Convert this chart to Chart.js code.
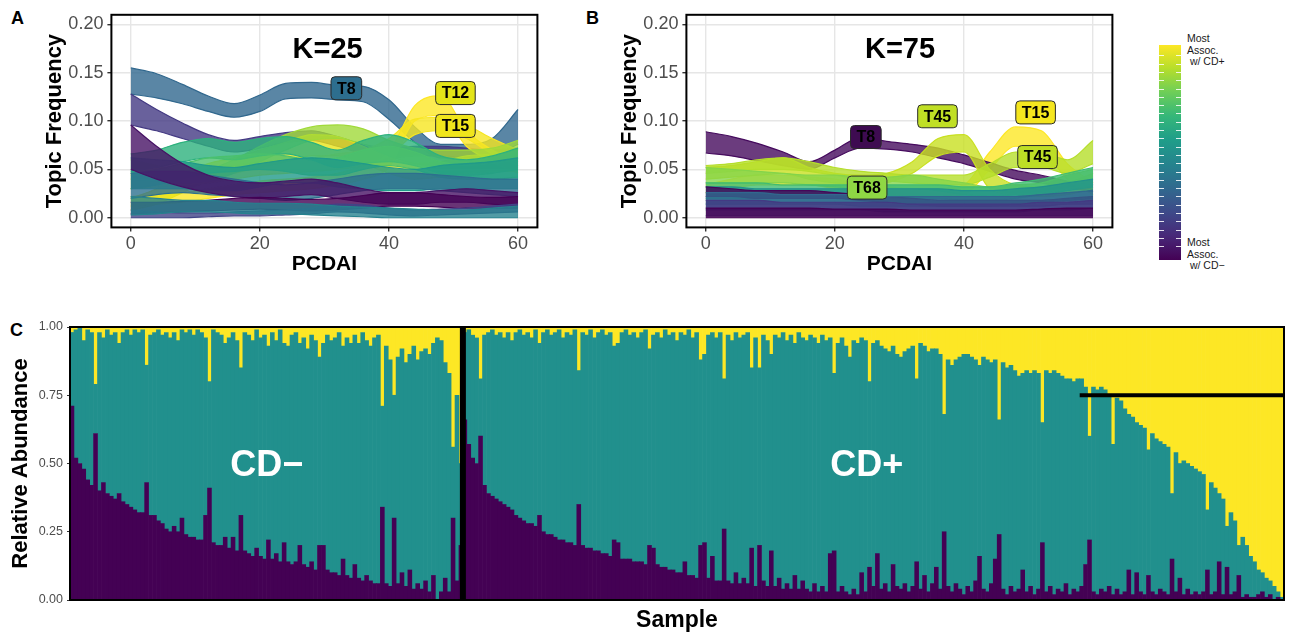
<!DOCTYPE html>
<html>
<head>
<meta charset="utf-8">
<script src="https://cdn.jsdelivr.net/npm/chart.js@4.4.1/dist/chart.umd.min.js"></script>
<style>
  html, body { margin: 0; padding: 0; background: #fff; }
  body { width: 1290px; height: 635px; position: relative; overflow: hidden;
         font-family: "Liberation Sans", Arial, Helvetica, sans-serif; }
  canvas { position: absolute; }
  .tag { position: absolute; font-weight: bold; font-size: 18px; line-height: 20px; color: #000; }
  #cbar { position: absolute; left: 1159px; top: 45px; width: 22px; height: 215px;
          background: linear-gradient(to top, #440154 0%, #482878 11%, #3e4989 22%, #31688e 33%,
            #26828e 44%, #1f9e89 56%, #35b779 67%, #6ece58 78%, #b5de2b 89%, #fde725 100%); }
  .cticks { position: absolute; top: 3px; width: 5px; height: 210px;
            background: repeating-linear-gradient(to bottom, rgba(255,255,255,0) 0px, rgba(255,255,255,0) 7.3px,
              rgba(255,255,255,.85) 7.3px, rgba(255,255,255,.85) 8.3px); }
  .cblab { position: absolute; left: 1187px; font-size: 10.5px; line-height: 11.7px; color: #1a1a1a; white-space: pre; }
</style>
</head>
<body>
<div class="tag" style="left:11px; top:8px;">A</div>
<div class="tag" style="left:586px; top:8px;">B</div>
<div class="tag" style="left:10px; top:320px;">C</div>

<canvas id="chartA" width="560" height="285" style="left:0px; top:0px;"></canvas>
<canvas id="chartB" width="560" height="285" style="left:575px; top:0px;"></canvas>
<canvas id="chartC" width="1290" height="335" style="left:0px; top:300px;"></canvas>

<div id="cbar"><div class="cticks" style="left:0px;"></div><div class="cticks" style="right:0px;"></div></div>
<div class="cblab" style="top:33px;">Most
Assoc.
 w/ CD+</div>
<div class="cblab" style="top:237px;">Most
Assoc.
 w/ CD−</div>

<script>
// ---- panels A / B : topic frequency along PCDAI ----
const pcdai = [0, 4, 8, 12, 16, 20, 24, 28, 32, 36, 40, 44, 48, 52, 56, 60];
const pcdaiTicks = [0, 20, 40, 60];
const freqTicks = [0, 0.05, 0.10, 0.15, 0.20];

// K=25 bundles (lower / upper edge of each topic's bundle of curves)
const aT8Lo = [.128, .124, .118, .110, .104, .110, .123, .124, .122, .120, .102, .078, .062, .062, .064, .076];
const aT8Hi = [.155, .149, .138, .126, .118, .127, .139, .140, .137, .136, .122, .094, .076, .076, .082, .112];
const aPurpleLo = [.096, .090, .082, .074, .068, .072, .078, .080, .074, .066, .062, .064, .064, .062, .062, .060];
const aPurpleHi = [.128, .112, .098, .086, .080, .084, .088, .090, .084, .076, .072, .074, .074, .072, .070, .072];
const aPlumLo = [.050, .040, .032, .026, .022, .020, .022, .024, .020, .016, .014, .014, .016, .016, .014, .012];
const aPlumHi = [.096, .074, .056, .044, .038, .036, .038, .040, .036, .030, .026, .026, .028, .030, .028, .026];
const aInkLo = [.004, .005, .006, .007, .008, .009, .008, .007, .008, .010, .012, .012, .011, .010, .010, .010];
const aInkHi = [.016, .016, .017, .018, .020, .021, .020, .019, .020, .023, .026, .026, .024, .022, .021, .022];
const aIndigoLo = [.000, .000, .000, .001, .002, .002, .003, .004, .006, .005, .003, .002, .003, .004, .005, .006];
const aIndigoHi = [.008, .006, .005, .005, .006, .007, .008, .010, .014, .013, .010, .008, .009, .010, .012, .014];
const aTealBaseLo = [.003, .004, .006, .006, .005, .004, .004, .003, .002, .001, .000, .000, .000, .000, .000, .000];
const aTealBaseHi = [.022, .020, .018, .018, .016, .015, .015, .014, .012, .011, .010, .009, .008, .008, .010, .012];
const aTealLo = [.030, .030, .030, .028, .028, .032, .036, .036, .032, .030, .028, .028, .030, .030, .030, .030];
const aTealHi = [.062, .060, .058, .054, .052, .056, .060, .062, .060, .056, .052, .050, .054, .056, .058, .062];
const aSlateLo = [.020, .024, .026, .024, .022, .020, .018, .020, .024, .028, .030, .030, .028, .026, .024, .022];
const aSlateHi = [.046, .048, .048, .044, .040, .036, .034, .036, .040, .044, .046, .046, .044, .042, .040, .040];
const aGreenLo = [.048, .052, .058, .062, .060, .064, .066, .060, .052, .056, .058, .054, .046, .044, .046, .050];
const aGreenHi = [.066, .070, .078, .082, .078, .082, .084, .078, .070, .080, .086, .078, .064, .060, .064, .072];
const aMintLo = [.030, .034, .040, .046, .048, .050, .048, .044, .044, .050, .054, .050, .042, .040, .040, .042];
const aMintHi = [.046, .050, .056, .062, .064, .066, .064, .060, .062, .070, .074, .068, .058, .054, .056, .060];
const aLimeLo = [.040, .038, .036, .038, .046, .058, .070, .080, .082, .076, .064, .056, .054, .056, .058, .062];
const aLimeHi = [.060, .054, .048, .050, .060, .074, .086, .094, .096, .092, .080, .072, .070, .070, .072, .080];
const aGoldLo = [.008, .014, .026, .038, .046, .052, .058, .064, .064, .056, .046, .040, .042, .046, .048, .048];
const aGoldHi = [.020, .030, .044, .056, .062, .070, .078, .086, .084, .074, .062, .056, .058, .064, .066, .070];
const aT12Lo = [.012, .014, .016, .020, .024, .026, .028, .030, .034, .040, .052, .100, .106, .074, .058, .046];
const aT12Hi = [.022, .024, .026, .030, .034, .038, .040, .042, .046, .054, .068, .116, .126, .090, .070, .058];
const aT15Lo = [.030, .032, .034, .036, .040, .044, .046, .048, .050, .054, .064, .086, .090, .082, .066, .054];
const aT15Hi = [.044, .046, .048, .050, .054, .058, .060, .062, .066, .070, .082, .102, .104, .096, .082, .070];

// K=75 bundles
const bT8Lo = [.067, .064, .059, .054, .050, .062, .072, .071, .068, .062, .056, .048, .040, .036, .031, .027];
const bT8Hi = [.089, .084, .077, .068, .058, .070, .083, .079, .076, .072, .065, .057, .049, .044, .038, .034];
const bT45Lo = [.040, .042, .044, .046, .040, .036, .034, .036, .046, .064, .068, .030, .024, .022, .024, .030];
const bT45Hi = [.052, .054, .058, .062, .052, .046, .044, .046, .058, .082, .086, .050, .034, .032, .036, .046];
const bT15Lo = [.026, .030, .034, .034, .034, .030, .026, .024, .022, .022, .024, .050, .074, .070, .040, .024];
const bT15Hi = [.034, .040, .044, .044, .042, .040, .034, .032, .030, .030, .034, .068, .094, .090, .056, .036];
const bT45bLo = [.046, .048, .050, .050, .048, .044, .040, .038, .036, .034, .034, .042, .052, .052, .046, .056];
const bT45bHi = [.054, .056, .060, .062, .058, .052, .048, .046, .044, .044, .044, .056, .068, .068, .060, .080];
const bT68Lo = [.036, .036, .036, .036, .034, .032, .030, .030, .030, .028, .024, .022, .024, .026, .030, .034];
const bT68Hi = [.052, .050, .048, .046, .044, .044, .042, .042, .044, .040, .036, .032, .034, .036, .044, .050];
const bGreenLo = [.020, .020, .020, .020, .020, .020, .020, .020, .020, .020, .018, .018, .020, .024, .028, .032];
const bGreenHi = [.036, .036, .036, .034, .034, .034, .034, .034, .034, .034, .032, .032, .036, .040, .046, .052];
const bTealLo = [.014, .014, .014, .014, .014, .014, .012, .012, .012, .012, .012, .012, .014, .016, .018, .020];
const bTealHi = [.032, .032, .030, .030, .030, .030, .030, .030, .030, .030, .028, .028, .030, .032, .036, .040];
const bBlueLo = [.008, .008, .008, .008, .008, .008, .008, .006, .006, .006, .006, .006, .006, .008, .008, .010];
const bBlueHi = [.026, .026, .026, .024, .024, .024, .024, .022, .022, .022, .022, .022, .022, .024, .026, .028];
const bIndigoLo = [.002, .002, .002, .002, .002, .002, .002, .002, .002, .002, .002, .002, .002, .002, .002, .002];
const bIndigoHi = [.018, .018, .018, .016, .016, .016, .016, .016, .014, .014, .014, .014, .014, .016, .016, .018];
const bInkLo = [0, 0, 0, 0, 0, 0, 0, 0, 0, 0, 0, 0, 0, 0, 0, 0];
const bInkHi = [.010, .010, .010, .010, .010, .009, .009, .009, .008, .008, .008, .008, .008, .009, .010, .010];
const bPlumLo = [.022, .022, .020, .020, .020, .020, .018, .016, .014, .012, .012, .012, .012, .012, .014, .014];
const bPlumHi = [.032, .030, .028, .028, .028, .026, .024, .022, .020, .018, .018, .018, .018, .018, .020, .022];

// topic labels
const tagTextA = ['T8', 'T12', 'T15'];
const tagXA = [33.4, 50.3, 50.3];
const tagYA = [0.134, 0.129, 0.095];
const tagTextB = ['T8', 'T45', 'T15', 'T45', 'T68'];
const tagXB = [24.8, 35.9, 51.1, 51.4, 25.0];
const tagYB = [0.0835, 0.105, 0.109, 0.0628, 0.0312];

// ---- panel C : relative abundance per sample (percent) ----
const cdNegLow = [71, 52, 50, 48, 44, 42, 61, 40, 43, 39, 38, 37, 39, 36, 35, 34, 33, 32, 32, 43,
  31, 31, 29, 28, 26, 25, 27, 25, 30, 24, 23, 23, 22, 22, 31, 41, 21, 20, 20, 23,
  19, 23, 18, 31, 18, 17, 16, 19, 16, 15, 22, 15, 17, 14, 21, 14, 13, 14, 20, 13,
  12, 14, 11, 20, 20, 11, 10, 10, 9, 15, 9, 8, 13, 8, 7, 9, 7, 6, 6, 34,
  6, 5, 30, 6, 10, 5, 11, 4, 6, 4, 7, 3, 9, 0, 3, 8, 3, 30, 7, 20];
const cdNegHigh = [2, 1, 0, 5, 1, 2, 21, 2, 4, 1, 3, 2, 6, 2, 1, 3, 1, 2, 1, 14,
  3, 2, 1, 3, 2, 4, 2, 5, 1, 2, 1, 3, 1, 2, 4, 20, 1, 2, 3, 6,
  4, 2, 5, 15, 2, 3, 5, 1, 4, 3, 7, 2, 5, 1, 6, 7, 3, 2, 6, 4,
  8, 3, 5, 11, 6, 3, 5, 4, 2, 7, 4, 6, 3, 6, 2, 5, 7, 4, 3, 29,
  7, 12, 25, 11, 8, 13, 10, 7, 12, 9, 8, 10, 6, 4, 5, 13, 17, 44, 25, 50];
const cdPosLow = [66, 57, 52, 50, 60, 42, 39, 38, 37, 36, 35, 34, 33, 31, 30, 29, 28, 28, 27, 31,
  25, 24, 24, 23, 22, 22, 21, 21, 20, 35, 20, 19, 19, 18, 18, 17, 17, 16, 22, 21,
  15, 15, 15, 14, 14, 14, 13, 20, 19, 13, 12, 12, 11, 11, 10, 10, 14, 9, 9, 8,
  20, 21, 8, 16, 7, 7, 26, 7, 6, 10, 6, 8, 6, 19, 5, 20, 7, 5, 18, 5,
  8, 4, 6, 4, 9, 4, 7, 4, 3, 6, 3, 5, 3, 17, 18, 3, 5, 3, 2, 4,
  2, 10, 3, 12, 5, 17, 4, 6, 3, 13, 5, 4, 6, 3, 5, 14, 4, 9, 3, 6,
  12, 4, 25, 5, 3, 6, 4, 2, 5, 3, 7, 16, 4, 3, 6, 15, 24, 4, 2, 5,
  3, 4, 11, 3, 5, 2, 4, 21, 3, 5, 2, 4, 3, 6, 2, 4, 3, 5, 13, 22,
  3, 2, 4, 3, 5, 2, 4, 2, 3, 11, 2, 10, 3, 2, 9, 3, 2, 4, 3, 2,
  15, 3, 8, 2, 4, 2, 3, 2, 3, 11, 2, 3, 14, 2, 12, 2, 3, 9, 1, 2,
  1, 1, 2, 3, 1, 2, 0, 1, 0];
const cdPosHigh = [2, 1, 3, 4, 19, 3, 2, 1, 3, 2, 4, 2, 5, 2, 1, 3, 2, 4, 1, 6,
  2, 1, 3, 2, 1, 4, 2, 3, 1, 16, 2, 3, 1, 4, 2, 1, 3, 2, 7, 6,
  2, 1, 3, 2, 4, 2, 1, 8, 3, 2, 4, 1, 3, 2, 5, 2, 3, 1, 4, 2,
  12, 10, 3, 2, 4, 2, 19, 3, 5, 2, 4, 3, 2, 15, 4, 15, 3, 5, 10, 3,
  4, 2, 5, 3, 6, 2, 4, 5, 3, 4, 6, 3, 5, 4, 17, 6, 4, 7, 11, 5,
  6, 4, 5, 20, 6, 5, 7, 8, 9, 7, 10, 11, 9, 8, 7, 19, 6, 7, 9, 8,
  8, 10, 32, 12, 14, 12, 11, 10, 10, 11, 12, 14, 11, 12, 13, 12, 34, 13, 15, 14,
  16, 18, 17, 16, 17, 16, 17, 35, 16, 17, 16, 17, 18, 19, 19, 20, 19, 19, 22, 40,
  22, 23, 22, 23, 25, 43, 26, 27, 30, 32, 33, 35, 36, 37, 45, 39, 41, 42, 43, 44,
  61, 46, 50, 49, 50, 51, 52, 53, 54, 67, 57, 59, 61, 63, 73, 68, 71, 80, 77, 80,
  84, 86, 89, 90, 92, 93, 95, 97, 99];
const abundanceTicks = [0, 0.25, 0.5, 0.75, 1];
const groupNames = ['CD−', 'CD+'];
const groupLabelAt = [49.6, 202.3];
const cutoffValue = 0.75;
const cutoffFromSample = 257;

// ---------------------------------------------------------------
Chart.defaults.font.family = '"Liberation Sans", Arial, Helvetica, sans-serif';
Chart.defaults.animation = false;
Chart.defaults.plugins.legend.display = false;
Chart.defaults.plugins.tooltip.enabled = false;

const FONT = '"Liberation Sans", Arial, Helvetica, sans-serif';

function fade(hex, a) {
  const n = parseInt(hex.slice(1), 16);
  return `rgba(${n >> 16},${(n >> 8) & 255},${n & 255},${a})`;
}

function toPoints(vals) {
  return vals.map((v, i) => ({ x: pcdai[i], y: v }));
}

function bandSets(bands) {
  return bands.flatMap(([lo, hi, color]) => [
    { data: toPoints(lo), borderColor: color, borderWidth: 1.2, fill: false },
    { data: toPoints(hi), borderColor: color, borderWidth: 1.2, fill: '-1', backgroundColor: fade(color, 0.8) },
  ]);
}

const frame = {
  id: 'frame',
  afterDraw(chart) {
    const { ctx, chartArea: a } = chart;
    ctx.save();
    ctx.strokeStyle = '#000';
    ctx.lineWidth = 2;
    ctx.strokeRect(a.left, a.top, a.right - a.left, a.bottom - a.top);
    ctx.restore();
  },
};

function notes(title, titleX, titleY, texts, xs, ys, fills) {
  return {
    id: 'notes',
    afterDatasetsDraw(chart) {
      const { ctx, scales: { x, y } } = chart;
      ctx.save();
      ctx.textAlign = 'center';
      ctx.textBaseline = 'middle';
      ctx.fillStyle = '#000';
      ctx.font = `bold 29px ${FONT}`;
      ctx.fillText(title, x.getPixelForValue(titleX), y.getPixelForValue(titleY));
      ctx.font = `bold 16px ${FONT}`;
      texts.forEach((t, i) => {
        const px = x.getPixelForValue(xs[i]);
        const py = y.getPixelForValue(ys[i]);
        const w = ctx.measureText(t).width + 12;
        const h = 23;
        ctx.beginPath();
        ctx.roundRect(px - w / 2, py - h / 2, w, h, 4);
        ctx.fillStyle = fills[i];
        ctx.fill();
        ctx.lineWidth = 1;
        ctx.strokeStyle = '#2b2b2b';
        ctx.stroke();
        ctx.fillStyle = '#000';
        ctx.fillText(t, px, py + 1);
      });
      ctx.restore();
    },
  };
}

function topicChart(id, bands, notePlugin) {
  return new Chart(document.getElementById(id), {
    type: 'line',
    data: { datasets: bandSets(bands) },
    options: {
      responsive: false,
      layout: { padding: { left: 0, top: 14.7, right: 22.6, bottom: 0 } },
      datasets: { line: { pointRadius: 0, cubicInterpolationMode: 'monotone' } },
      scales: {
        x: {
          type: 'linear', min: -3, max: 63,
          afterBuildTicks: (a) => { a.ticks = pcdaiTicks.map((v) => ({ value: v })); },
          afterFit: (a) => { a.height = 57.6; },
          grid: { color: '#e6e6e6', lineWidth: 1.4, tickColor: '#333', tickLength: 4 },
          border: { display: false },
          ticks: { color: '#4d4d4d', font: { size: 18 }, padding: 2, maxRotation: 0 },
          title: { display: true, text: 'PCDAI', color: '#000', font: { size: 21, weight: 'bold' },
                   padding: { top: 0, bottom: 8.4 } },
        },
        y: {
          min: -0.01, max: 0.21,
          afterBuildTicks: (a) => { a.ticks = freqTicks.map((v) => ({ value: v })); },
          afterFit: (a) => { a.width = 111.4; },
          grid: { color: '#e6e6e6', lineWidth: 1.4, tickColor: '#333', tickLength: 4 },
          border: { display: false },
          ticks: { color: '#4d4d4d', font: { size: 18 }, padding: 4, callback: (v) => Number(v).toFixed(2) },
          title: { display: true, text: 'Topic Frequency', color: '#000', font: { size: 22, weight: 'bold' },
                   padding: { top: 41.8, bottom: 0 } },
        },
      },
    },
    plugins: [notePlugin, frame],
  });
}

topicChart('chartA', [
  [aTealBaseLo, aTealBaseHi, '#26828e'],
  [aIndigoLo, aIndigoHi, '#414487'],
  [aInkLo, aInkHi, '#440154'],
  [aPlumLo, aPlumHi, '#471365'],
  [aSlateLo, aSlateHi, '#2d708e'],
  [aTealLo, aTealHi, '#1f9a8a'],
  [aMintLo, aMintHi, '#4ac16d'],
  [aGreenLo, aGreenHi, '#2db27d'],
  [aLimeLo, aLimeHi, '#a0da39'],
  [aGoldLo, aGoldHi, '#e8e419'],
  [aT15Lo, aT15Hi, '#f6e620'],
  [aT12Lo, aT12Hi, '#fde725'],
  [aPurpleLo, aPurpleHi, '#443a83'],
  [aT8Lo, aT8Hi, '#31688e'],
], notes('K=25', 30.5, 0.1735, tagTextA, tagXA, tagYA, ['#2d6e8e', '#e3e418', '#f0e51c']));

topicChart('chartB', [
  [bInkLo, bInkHi, '#440154'],
  [bIndigoLo, bIndigoHi, '#443983'],
  [bBlueLo, bBlueHi, '#31688e'],
  [bPlumLo, bPlumHi, '#450559'],
  [bTealLo, bTealHi, '#21918c'],
  [bGreenLo, bGreenHi, '#3fbc73'],
  [bT68Lo, bT68Hi, '#84d44b'],
  [bT45bLo, bT45bHi, '#b5de2b'],
  [bT45Lo, bT45Hi, '#c8e020'],
  [bT8Lo, bT8Hi, '#460b5e'],
  [bT15Lo, bT15Hi, '#fde725'],
], notes('K=75', 30.1, 0.1735, tagTextB, tagXB, tagYB, ['#3e0b51', '#c0df25', '#f5e61f', '#bdde26', '#8fd744']));

// ---- panel C ----
const lowShare = [...cdNegLow, ...cdPosLow].map((v) => v / 100);
const highShare = [...cdNegHigh, ...cdPosHigh].map((v) => v / 100);
const midShare = lowShare.map((v, i) => 1 - v - highShare[i]);
const samples = lowShare.map((_, i) => (i < cdNegLow.length ? 'CD- ' : 'CD+ ') + i);

const groupMarks = {
  id: 'groupMarks',
  afterDatasetsDraw(chart) {
    const { ctx, chartArea: a, scales: { x, y } } = chart;
    const half = (x.getPixelForValue(1) - x.getPixelForValue(0)) / 2;
    ctx.save();
    ctx.fillStyle = '#000';
    const xd = x.getPixelForValue(cdNegLow.length) - half;
    ctx.fillRect(xd - 3, a.top, 6, a.bottom - a.top);
    const xs = x.getPixelForValue(cutoffFromSample) - half;
    const yc = y.getPixelForValue(cutoffValue);
    ctx.fillRect(xs, yc - 2, a.right - xs, 4);
    ctx.fillStyle = '#fff';
    ctx.font = `bold 36px ${FONT}`;
    ctx.textAlign = 'center';
    ctx.textBaseline = 'middle';
    groupNames.forEach((g, i) => ctx.fillText(g, x.getPixelForValue(groupLabelAt[i]), y.getPixelForValue(0.49)));
    ctx.restore();
  },
};

new Chart(document.getElementById('chartC'), {
  type: 'bar',
  data: {
    labels: samples,
    datasets: [
      { data: lowShare, backgroundColor: '#440154' },
      { data: midShare, backgroundColor: '#21908d' },
      { data: highShare, backgroundColor: '#fde725' },
    ],
  },
  options: {
    responsive: false,
    layout: { padding: { left: 0, top: 27, right: 6, bottom: 0 } },
    datasets: { bar: { barPercentage: 1, categoryPercentage: 1, borderWidth: 0 } },
    scales: {
      x: {
        stacked: true,
        grid: { display: false },
        border: { display: false },
        ticks: { display: false },
        afterFit: (a) => { a.height = 35; },
        title: { display: true, text: 'Sample', color: '#000', font: { size: 23, weight: 'bold' },
                 padding: { top: 0, bottom: 0.2 } },
      },
      y: {
        stacked: true, min: 0, max: 1,
        afterBuildTicks: (a) => { a.ticks = abundanceTicks.map((v) => ({ value: v })); },
        afterFit: (a) => { a.width = 70; },
        grid: { drawOnChartArea: false, tickLength: 3, tickColor: '#333', color: '#333' },
        border: { display: false },
        ticks: { color: '#4d4d4d', font: { size: 12.5 }, padding: 4, callback: (v) => Number(v).toFixed(2) },
        title: { display: true, text: 'Relative Abundance', color: '#000', font: { size: 22, weight: 'bold' },
                 padding: { top: 7.8, bottom: 0 } },
      },
    },
  },
  plugins: [groupMarks, frame],
});
</script>
</body>
</html>
